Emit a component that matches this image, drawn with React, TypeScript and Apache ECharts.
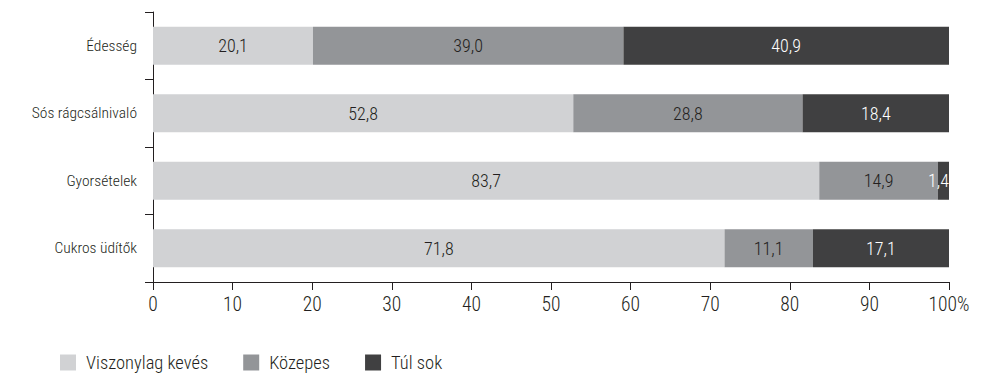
import React, { useEffect, useRef } from "react";
import * as echarts from "echarts";

const categories = ["Édesség", "Sós rágcsálnivaló", "Gyorsételek", "Cukros üdítők"];
const seriesNames = ["Viszonylag kevés", "Közepes", "Túl sok"];
const low = [20.1, 52.8, 83.7, 71.8];
const mid = [39.0, 28.8, 14.9, 11.1];
const high = [40.9, 18.4, 1.4, 17.1];
const colors = ["#d1d2d4", "#939598", "#404041"];
const labelColors = ["#231f20", "#231f20", "#ffffff"];

const FONT = "'Roboto Condensed', Roboto, sans-serif";
const FW = 300;

export default function App() {
  const ref = useRef<HTMLDivElement>(null);
  useEffect(() => {
    if (!ref.current) return;
    const chart = echarts.init(ref.current, null, { renderer: "svg" });
    const data = [low, mid, high];
    chart.setOption({
      animation: false,
      textStyle: { fontFamily: FONT },
      grid: { left: 153, right: 32, top: 12, bottom: 91, containLabel: false },
      legend: {
        left: 55,
        top: 348,
        itemWidth: 16,
        itemHeight: 16,
        itemGap: 35,
        icon: "rect",
        textStyle: { fontFamily: FONT, fontSize: 18.5, fontWeight: FW, color: "#231f20", padding: [0, 0, 0, 5] },
        data: seriesNames,
      },
      xAxis: {
        type: "value",
        min: 0,
        max: 100,
        interval: 10,
        axisLine: { show: true, lineStyle: { color: "#231f20", width: 1 } },
        axisTick: { show: true, length: 8, lineStyle: { color: "#231f20" } },
        splitLine: { show: false },
        axisLabel: {
          fontFamily: FONT,
          fontSize: 19.5,
          fontWeight: FW,
          color: "#231f20",
          margin: 12,
          formatter: (v: number) => (v === 100 ? "100%" : String(v)),
        },
      },
      yAxis: {
        type: "category",
        inverse: true,
        data: categories,
        axisLine: { show: true, lineStyle: { color: "#231f20", width: 1 } },
        axisTick: { show: true, length: 8, lineStyle: { color: "#231f20" } },
        axisLabel: { fontFamily: FONT, fontSize: 15.5, fontWeight: FW, color: "#231f20", margin: 16 },
      },
      series: seriesNames.map((name, i) => ({
        name,
        type: "bar",
        stack: "total",
        barWidth: 38,
        itemStyle: { color: colors[i] },
        label: {
          show: true,
          position: "inside",
          fontFamily: FONT,
          fontSize: 18,
          fontWeight: FW,
          color: labelColors[i],
          formatter: (p: any) => Number(p.value).toFixed(1).replace(".", ","),
        },
        data: data[i].map((v) =>
          v < 3 ? { value: v, label: { position: "insideRight", distance: 0 } } : v
        ),
      })),
    });
    return () => chart.dispose();
  }, []);
  return (
    <div
      ref={ref}
      style={{ position: "absolute", left: 0, top: 0, width: 981, height: 373 }}
    />
  );
}
